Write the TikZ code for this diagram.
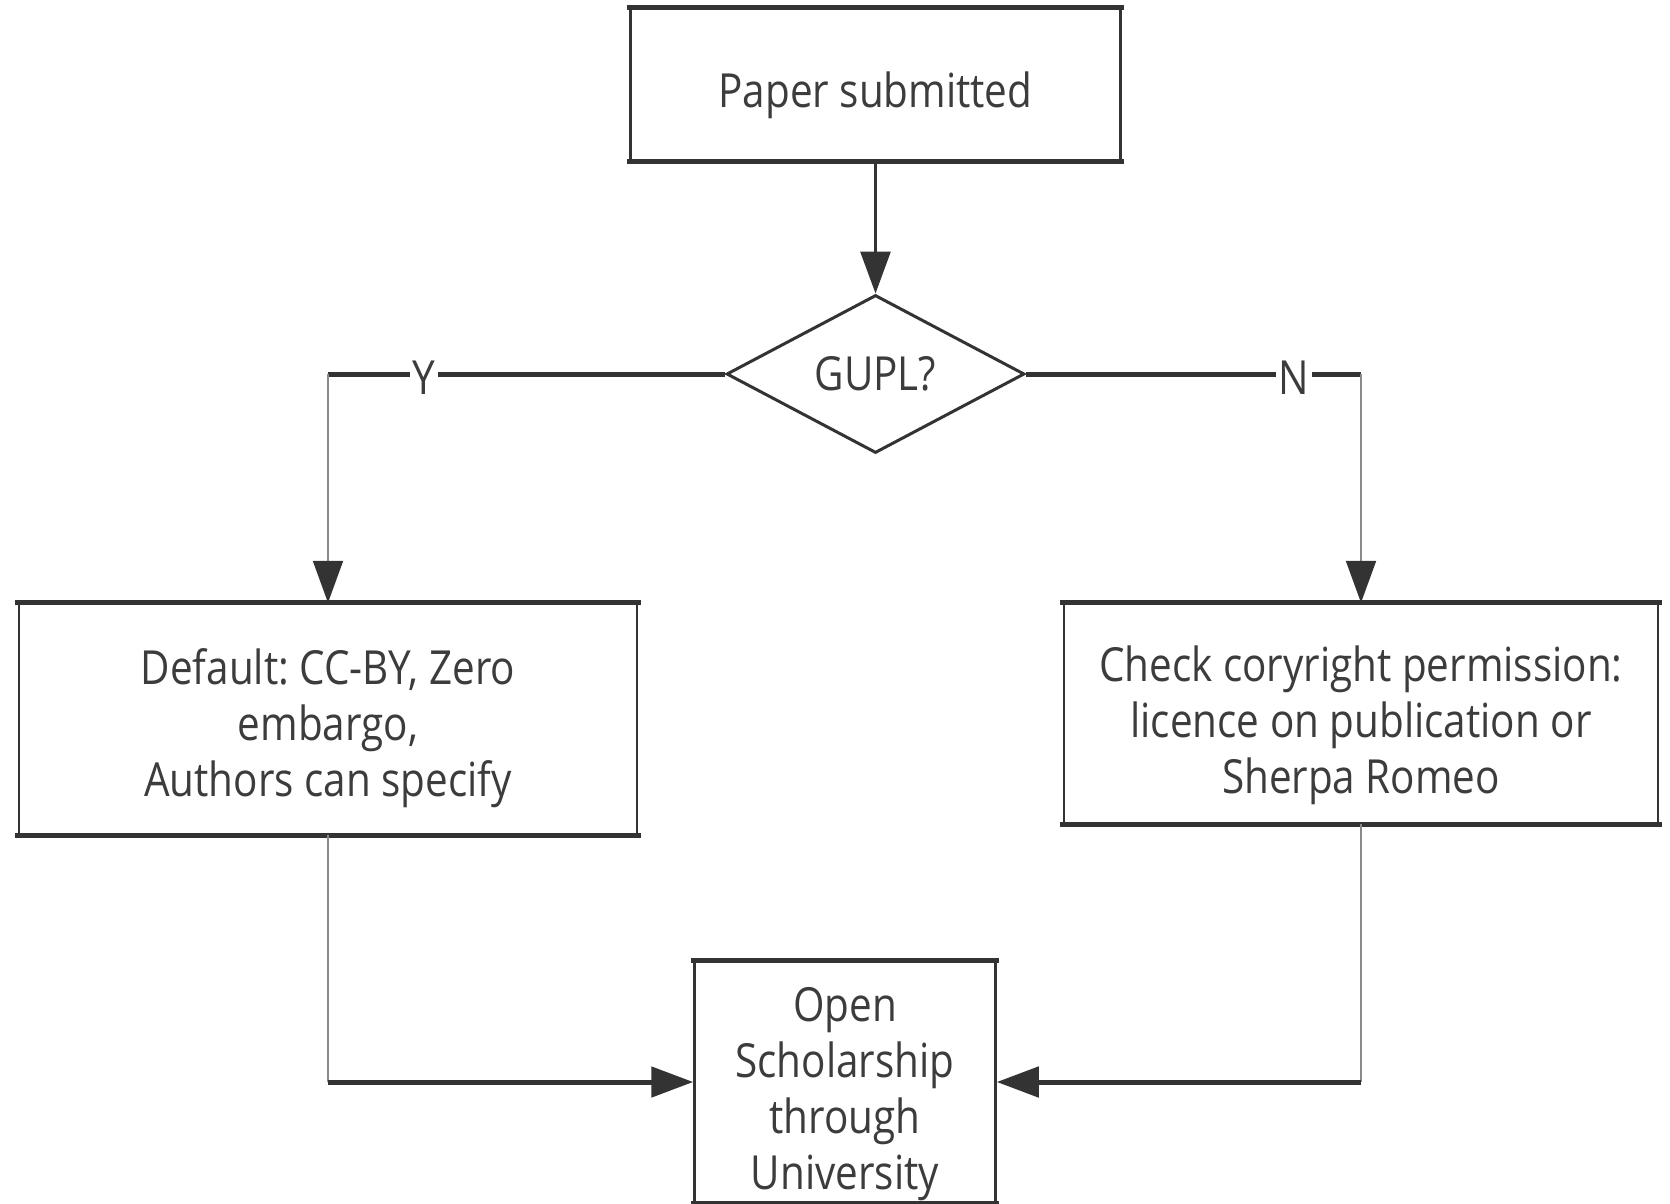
\documentclass[tikz,border=0pt]{standalone}
\usepackage{fontspec}
\setmainfont{Open Sans}[FakeStretch=0.86]
\usetikzlibrary{arrows.meta,shapes.geometric}
\definecolor{lineC}{HTML}{333333}
\definecolor{vC}{HTML}{8A8A8A}
\definecolor{txtC}{HTML}{3C3C3C}
\tikzset{
  box/.style={draw=lineC, line width=2.5pt, fill=white, inner sep=0pt},
  txt/.style={align=center, text=txtC, inner sep=0pt, font=\fontsize{47}{56}\selectfont\frenchspacing},
  hline/.style={draw=lineC, line width=5pt},
  vline/.style={draw=vC, line width=2.2pt},
  tip/.style={-{Triangle[length=42pt,width=30pt,color=lineC]}},
  yn/.style={fill=white, text=txtC, inner sep=3pt, font=\fontsize{47}{56}\selectfont}
}
\begin{document}
\begin{tikzpicture}[x=1pt,y=-1pt]
\useasboundingbox (0,0) rectangle (1670,1204);
% boxes
\node[box, minimum width=490pt, minimum height=152pt] (paper) at (875.5,84.5) {};
\node[draw=lineC, line width=3pt, diamond, inner sep=0pt, minimum width=298pt, minimum height=158pt,
  text=txtC, font=\fontsize{47}{56}\selectfont] (gupl) at (875.5,374) {GUPL?};
\node[box, minimum width=618pt, minimum height=230pt] (def) at (328,719) {};
\node[box, minimum width=594pt, minimum height=219pt] (chk) at (1361,713.5) {};
\node[box, minimum width=301pt, minimum height=240pt] (open) at (845,1082) {};
% texts
\node[txt] (paper-t) at ([yshift=-11pt]paper.center) {Paper submitted};
\node[txt] (def-t) at ([yshift=-9pt]def.center) {Default: CC-BY, Zero\\embargo,\\Authors can specify};
\node[txt] (chk-t) at ([yshift=-12pt]chk.center) {Check coryright permission:\\licence on publication or\\Sherpa Romeo};
\node[txt] (open-t) at ([yshift=-12pt]open.center) {Open\\Scholarship\\through\\University};
% thicker horizontal edges
\foreach \n in {paper,def,chk,open}{
  \draw[hline, line cap=rect] (\n.north west) -- (\n.north east);
  \draw[hline, line cap=rect] (\n.south west) -- (\n.south east);
}
% coordinates
\coordinate (yc) at (def.north |- gupl.west);
\coordinate (nc) at (chk.north |- gupl.east);
\coordinate (lc) at (def.south |- open.west);
\coordinate (rc) at (chk.south |- open.east);
% connectors
\draw[draw=lineC, line width=3pt, tip] (paper.south) -- (gupl.north);
\draw[hline] (gupl.west) -- (yc);
\draw[vline, tip] (yc) -- (def.north);
\draw[hline] (gupl.east) -- (nc);
\draw[vline, tip] (nc) -- (chk.north);
\draw[vline] (def.south) -- (lc);
\draw[hline, tip] (lc) -- (open.west);
\draw[vline] (chk.south) -- (rc);
\draw[hline, tip] (rc) -- (open.east);
% labels
\node[yn] (ylab) at (424,378) {Y};
\node[yn] (nlab) at (1294,378) {N};
\end{tikzpicture}
\end{document}
